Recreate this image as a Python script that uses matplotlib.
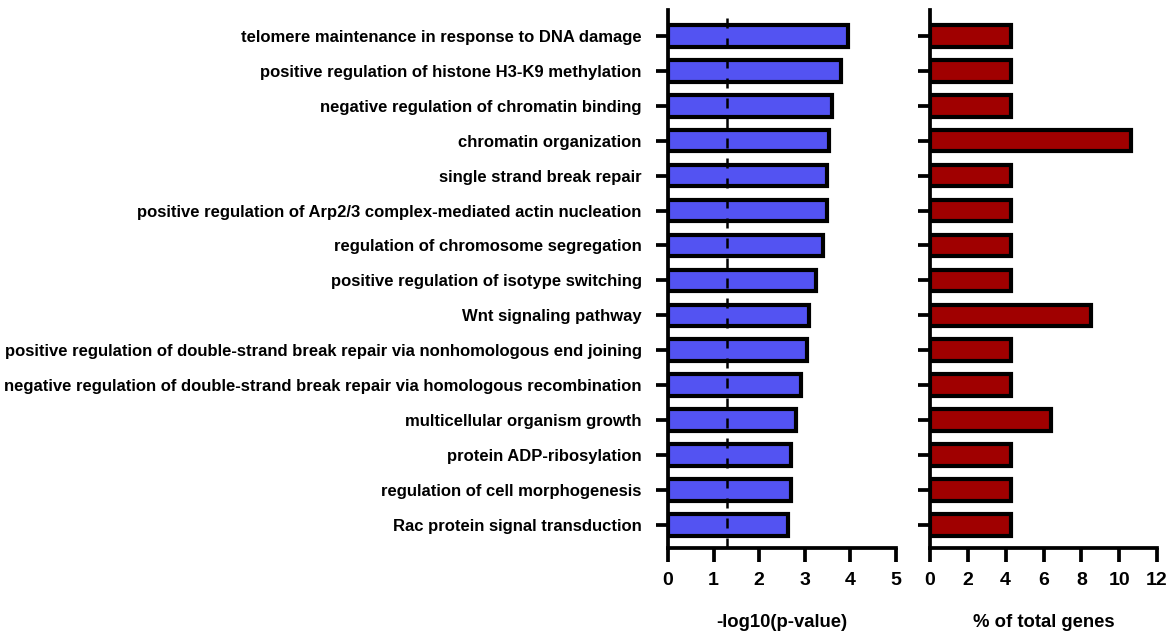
import matplotlib
matplotlib.use("Agg")
import matplotlib.pyplot as plt

plt.rcParams['font.family'] = ['Liberation Sans', 'DejaVu Sans']
plt.rcParams['font.weight'] = 'bold'

terms = [
    "telomere maintenance in response to DNA damage",
    "positive regulation of histone H3-K9 methylation",
    "negative regulation of chromatin binding",
    "chromatin organization",
    "single strand break repair",
    "positive regulation of Arp2/3 complex-mediated actin nucleation",
    "regulation of chromosome segregation",
    "positive regulation of isotype switching",
    "Wnt signaling pathway",
    "positive regulation of double-strand break repair via nonhomologous end joining",
    "negative regulation of double-strand break repair via homologous recombination",
    "multicellular organism growth",
    "protein ADP-ribosylation",
    "regulation of cell morphogenesis",
    "Rac protein signal transduction",
]
neglog10p = [3.95, 3.80, 3.59, 3.52, 3.48, 3.48, 3.39, 3.24, 3.09, 3.04, 2.91, 2.80, 2.69, 2.69, 2.64]
pct_genes = [4.26, 4.26, 4.26, 10.64, 4.26, 4.26, 4.26, 4.26, 8.51, 4.26, 4.26, 6.38, 4.26, 4.26, 4.26]
threshold = 1.3
left_ticks = [0, 1, 2, 3, 4, 5]
right_ticks = [0, 2, 4, 6, 8, 10, 12]

fig = plt.figure(figsize=(11.74, 6.33), dpi=100)
ax1 = fig.add_axes([668/1174, 1-548/633, 228/1174, 538/633])
ax2 = fig.add_axes([930/1174, 1-548/633, 227/1174, 538/633])

y = list(range(len(terms)))
ax1.barh(y, neglog10p, height=0.62, color='#5353F2', edgecolor='black', linewidth=3, zorder=2)
ax2.barh(y, pct_genes, height=0.62, color='#A00000', edgecolor='black', linewidth=3, zorder=2)
ax1.axvline(threshold, color='black', linestyle=(0, (4, 4)), linewidth=1.8, zorder=3)

for ax in (ax1, ax2):
    ax.set_ylim(14.66, -0.74)
    ax.spines['top'].set_visible(False)
    ax.spines['right'].set_visible(False)
    ax.spines['left'].set_linewidth(2.7)
    ax.spines['bottom'].set_linewidth(2.7)
    ax.tick_params(axis='x', direction='out', length=10, width=2.7, labelsize=14, pad=7)
    ax.tick_params(axis='y', direction='out', length=9, width=2.7)
    ax.set_yticks(y)

ax1.set_xlim(0, 5)
ax1.set_xticks(left_ticks)
ax1.set_yticklabels(terms, fontsize=11.95, fontweight='bold')
ax1.tick_params(axis='y', pad=10)
ax1.set_xlabel("-log10(p-value)", fontsize=13.3, fontweight='bold', labelpad=18)

ax2.set_xlim(0, 12)
ax2.set_xticks(right_ticks)
ax2.set_yticklabels([])
ax2.set_xlabel("% of total genes", fontsize=13.3, fontweight='bold', labelpad=18)

for ax in (ax1, ax2):
    for lab in ax.get_xticklabels():
        lab.set_fontweight('bold')

fig.savefig("out.png", dpi=100)
